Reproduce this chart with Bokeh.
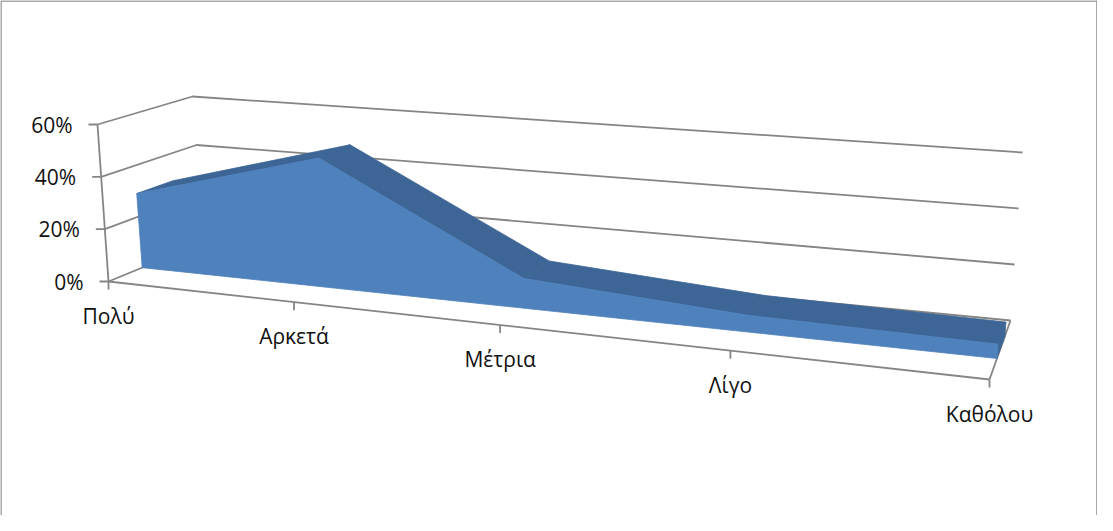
import numpy as np
from bokeh.plotting import figure
from bokeh.models import Range1d
from bokeh.embed import file_html
from bokeh.resources import INLINE
from bokeh.core.properties import value

# ---------------- data ----------------
categories = ["Πολύ", "Αρκετά", "Μέτρια", "Λίγο", "Καθόλου"]
shares = [0.29, 0.49, 0.11, 0.06, 0.05]
value_ticks = [0.0, 0.2, 0.4, 0.6]
value_tick_labels = ["0%", "20%", "40%", "60%"]

# ---------------- 3-D projection set-up (pixel space of the page) ----------------
V_MAX = 0.6
W0, W1 = 0.33, 0.71          # depth slab occupied by the series
# floor plane corners (u along categories, w along depth)
FLOOR_CORNERS = {(0, 0): (116, 289), (1, 0): (997, 387), (1, 1): (1018, 328), (0, 1): (212, 249.5)}
# screen vector of a full-height (V_MAX) vertical edge at each floor corner
HEIGHT_VEC = {(0, 0): (-11, -157), (1, 0): (12, -173), (1, 1): (12, -168), (0, 1): (-12, -145.5)}


def homography(corners):
    A, b = [], []
    for (u, w), (x, y) in corners.items():
        A.append([u, w, 1, 0, 0, 0, -u * x, -w * x]); b.append(x)
        A.append([0, 0, 0, u, w, 1, -u * y, -w * y]); b.append(y)
    h = np.linalg.solve(np.array(A, float), np.array(b, float))
    return np.append(h, 1.0).reshape(3, 3)


HF = homography(FLOOR_CORNERS)


def floor_pt(u, w):
    q = HF @ np.array([u, w, 1.0])
    return np.array([q[0] / q[2], q[1] / q[2]])


def height_vec(u, w):
    h = np.zeros(2)
    for (cu, cw), vec in HEIGHT_VEC.items():
        wt = (u if cu else 1 - u) * (w if cw else 1 - w)
        h += wt * np.array(vec, float)
    return h


def project(u, w, v):
    return floor_pt(u, w) + (v / V_MAX) * height_vec(u, w)


n = len(categories)
u_pos = [i / (n - 1) for i in range(n)]

GRID = "#858585"
FRONT = "#4F81BD"
TOPC = "#3D6696"
FONT = value("Open Sans")
FS = "21px"

p = figure(width=1097, height=515, x_range=Range1d(8, 1105), y_range=Range1d(523, 8),
           output_backend="svg", toolbar_location=None, min_border=0,
           x_axis_location=None, y_axis_location=None)
p.grid.visible = False
p.outline_line_color = None
p.background_fill_color = "white"

# chart-area border (top, left, right)
p.multi_line(xs=[[8.5, 1104.5], [8.5, 8.5], [1104.5, 1104.5]],
             ys=[[8.5, 8.5], [8.5, 530], [8.5, 530]], line_color="#8c8c8c", line_width=1.5)

# ---------------- walls: gridlines ----------------
gx, gy = [], []
for v in value_ticks:
    pts = [project(0, 0, v), project(0, 1, v), project(1, 1, v)]
    gx.append([q[0] for q in pts]); gy.append([q[1] for q in pts])
pts = [project(1, 1, 0), project(1, 0, 0)]     # floor right edge
gx.append([q[0] for q in pts]); gy.append([q[1] for q in pts])
p.multi_line(xs=gx, ys=gy, line_color=GRID, line_width=1.8)

# ---------------- the 3-D area ----------------
fx, fy = [], []
for i in range(n - 1):
    quad = [project(u_pos[i], W0, shares[i]), project(u_pos[i + 1], W0, shares[i + 1]),
            project(u_pos[i + 1], W1, shares[i + 1]), project(u_pos[i], W1, shares[i])]
    fx.append([q[0] for q in quad]); fy.append([q[1] for q in quad])
cap = [project(1, W0, 0), project(1, W1, 0), project(1, W1, shares[-1]), project(1, W0, shares[-1])]
fx.append([q[0] for q in cap]); fy.append([q[1] for q in cap])
p.patches(xs=fx, ys=fy, fill_color=TOPC, line_color=TOPC, line_width=0.8)

front = [project(u_pos[i], W0, shares[i]) for i in range(n)]
front += [project(1, W0, 0), project(0, W0, 0)]
p.patch(x=[q[0] for q in front], y=[q[1] for q in front], fill_color=FRONT, line_color=FRONT, line_width=0.8)

# ---------------- axes ----------------
a0, a1 = project(0, 0, 0), project(1, 0, 0)
p.line(x=[a0[0], a1[0]], y=[a0[1], a1[1]], line_color=GRID, line_width=1.8)
tick_pts = [project(u, 0, 0) for u in u_pos]
p.segment(x0=[q[0] for q in tick_pts], y0=[q[1] for q in tick_pts],
          x1=[q[0] for q in tick_pts], y1=[q[1] + 8 for q in tick_pts], line_color=GRID, line_width=1.8)
p.text(x=[q[0] for q in tick_pts], y=[q[1] + 34 for q in tick_pts], text=categories,
       text_font=FONT, text_font_size=FS, text_color="#111111",
       text_align="center", text_baseline="middle")

v0, v1 = project(0, 0, 0), project(0, 0, V_MAX)
p.line(x=[v0[0], v1[0]], y=[v0[1], v1[1]], line_color=GRID, line_width=1.8)
vt = [project(0, 0, v) for v in value_ticks]
p.segment(x0=[q[0] for q in vt], y0=[q[1] for q in vt],
          x1=[q[0] - 9 for q in vt], y1=[q[1] for q in vt], line_color=GRID, line_width=1.8)
p.text(x=[q[0] - 25 for q in vt], y=[q[1] for q in vt], text=value_tick_labels,
       text_font=FONT, text_font_size=FS, text_color="#111111",
       text_align="right", text_baseline="middle")

open("out.html", "w").write(file_html(p, INLINE))
